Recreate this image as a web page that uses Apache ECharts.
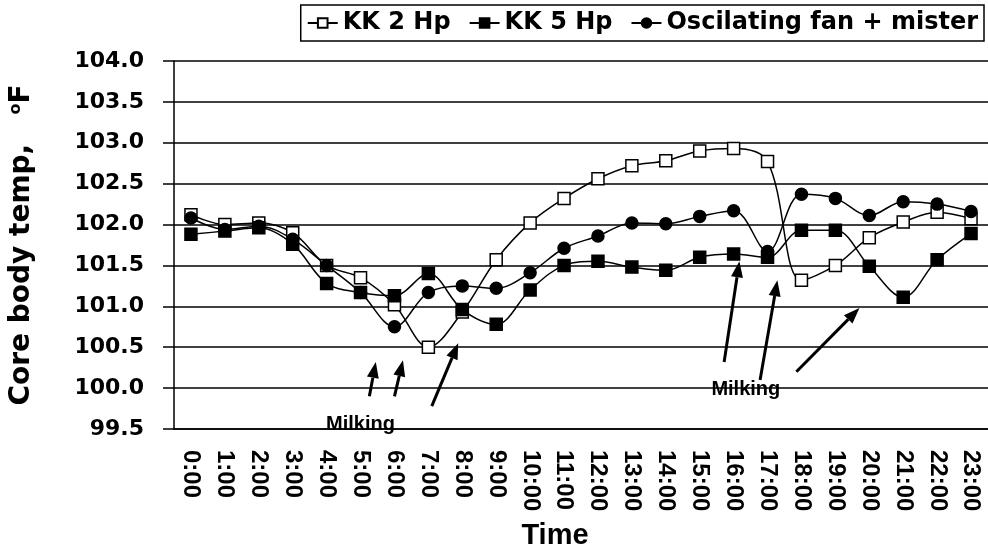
<!DOCTYPE html>
<html>
<head>
<meta charset="utf-8">
<script src="https://cdn.jsdelivr.net/npm/echarts@6/dist/echarts.min.js"></script>
<style>
  html, body { margin: 0; padding: 0; background: #fff; }
  #main { width: 988px; height: 556px; }
</style>
</head>
<body>
<div id="main"></div>
<script>
// hourly core body temperature (°F)
const hours = ['0:00', '1:00', '2:00', '3:00', '4:00', '5:00', '6:00', '7:00', '8:00', '9:00', '10:00', '11:00',
  '12:00', '13:00', '14:00', '15:00', '16:00', '17:00', '18:00', '19:00', '20:00', '21:00', '22:00', '23:00']
const kk2 = [102.12, 102.0, 102.02, 101.9, 101.5, 101.35, 101.02, 100.5, 100.93, 101.57, 102.02, 102.32,
  102.56, 102.72, 102.78, 102.9, 102.93, 102.77, 101.32, 101.5, 101.84, 102.03, 102.15, 102.07]
const kk5 = [101.88, 101.92, 101.96, 101.76, 101.28, 101.17, 101.13, 101.4, 100.96, 100.78, 101.2, 101.5,
  101.55, 101.48, 101.44, 101.6, 101.64, 101.6, 101.93, 101.93, 101.49, 101.11, 101.57, 101.89]
const fan = [102.08, 101.94, 101.98, 101.82, 101.5, 101.17, 100.75, 101.17, 101.25, 101.22, 101.41, 101.71,
  101.86, 102.02, 102.01, 102.1, 102.17, 101.67, 102.37, 102.32, 102.11, 102.28, 102.25, 102.16]

// milking arrows: [fromHour, fromTemp, toHour, toTemp] in axis units
const arrows = [
  [5.26, 99.90, 5.45, 100.32],
  [6.00, 99.90, 6.25, 100.34],
  [7.10, 99.78, 7.88, 100.55],
  [15.72, 100.32, 16.17, 101.55],
  [16.78, 100.10, 17.29, 101.32],
  [17.85, 100.20, 19.71, 100.98]
]
const notes = [[5.0, 99.56], [16.36, 99.98]]

const chart = echarts.init(document.getElementById('main'))

const mkSeries = (name, data, symbol, fill) => ({
  name,
  type: 'line',
  data,
  smooth: 0.35,
  symbol,
  symbolSize: 12,
  lineStyle: { color: '#000', width: 1.5 },
  itemStyle: { color: fill, borderColor: '#000', borderWidth: 1.5 }
})

chart.setOption({
  animation: false,
  grid: { left: 170, right: -6, top: 61, bottom: 127 },
  legend: {
    right: 4,
    top: 5,
    padding: [6, 6],
    itemWidth: 30,
    itemHeight: 12,
    itemGap: 18,
    borderColor: '#000',
    borderWidth: 1.5,
    textStyle: { fontFamily: 'DejaVu Sans', fontWeight: 'bold', fontSize: 24, color: '#000' },
    data: ['KK 2 Hp', 'KK 5 Hp', 'Oscilating fan + mister']
  },
  xAxis: {
    type: 'category',
    data: hours,
    name: 'Time',
    nameLocation: 'middle',
    nameGap: 92,
    nameTextStyle: { fontFamily: 'Liberation Sans', fontWeight: 'bold', fontSize: 29, color: '#000', padding: [0, 52, 0, 0] },
    axisLine: { lineStyle: { color: '#000', width: 1.5 } },
    axisTick: { interval: 0, length: 7, lineStyle: { color: '#000', width: 1.5 } },
    axisLabel: {
      interval: 0,
      rotate: -90,
      margin: 21,
      fontFamily: 'Liberation Sans',
      fontWeight: 'bold',
      fontSize: 24,
      color: '#000'
    }
  },
  yAxis: {
    type: 'value',
    min: 99.5,
    max: 104,
    interval: 0.5,
    name: 'Core body temp,   {sup|o}F',
    nameLocation: 'middle',
    nameRotate: 90,
    nameGap: 138,
    nameTextStyle: {
      fontFamily: 'DejaVu Sans', fontWeight: 'bold', fontSize: 28, color: '#000',
      rich: { sup: { fontFamily: 'DejaVu Sans', fontWeight: 'bold', fontSize: 16, color: '#000', verticalAlign: 'top' } }
    },
    axisLine: { show: true, lineStyle: { color: '#000', width: 1.5 } },
    axisTick: { show: true, length: 11, lineStyle: { color: '#000', width: 1.5 } },
    splitLine: { lineStyle: { color: '#000', width: 1.5 } },
    axisLabel: {
      margin: 30,
      fontFamily: 'DejaVu Sans',
      fontWeight: 'bold',
      fontSize: 22,
      color: '#000',
      formatter: v => v.toFixed(1)
    }
  },
  series: [
    mkSeries('KK 2 Hp', kk2, 'rect', '#fff'),
    mkSeries('KK 5 Hp', kk5, 'rect', '#000'),
    mkSeries('Oscilating fan + mister', fan, 'circle', '#000')
  ]
})

// fractional hour -> pixel, interpolated between category centres
const toPx = (h, v) => {
  const i = Math.min(Math.floor(h), hours.length - 2)
  const a = chart.convertToPixel({ gridIndex: 0 }, [i, v])
  const b = chart.convertToPixel({ gridIndex: 0 }, [i + 1, v])
  const f = h - i
  return [a[0] + (b[0] - a[0]) * f, a[1]]
}

const arrowShape = (x1, y1, x2, y2) => {
  const ang = Math.atan2(y2 - y1, x2 - x1)
  const len = 16
  const half = 6
  const bx = x2 - len * Math.cos(ang)
  const by = y2 - len * Math.sin(ang)
  return {
    type: 'group',
    children: [
      { type: 'line', shape: { x1, y1, x2: bx, y2: by }, style: { stroke: '#000', lineWidth: 3 } },
      {
        type: 'polygon',
        shape: { points: [[x2, y2], [bx + half * Math.sin(ang), by - half * Math.cos(ang)], [bx - half * Math.sin(ang), by + half * Math.cos(ang)]] },
        style: { fill: '#000' }
      }
    ]
  }
}

const graphics = arrows.map(a => {
  const p = toPx(a[0], a[1])
  const q = toPx(a[2], a[3])
  return arrowShape(p[0], p[1], q[0], q[1])
})
notes.forEach(n => {
  const p = toPx(n[0], n[1])
  graphics.push({
    type: 'text',
    x: p[0],
    y: p[1],
    style: {
      text: 'Milking',
      fontFamily: 'Liberation Sans',
      fontWeight: 'bold',
      fontSize: 20,
      fill: '#000',
      align: 'center',
      verticalAlign: 'middle'
    }
  })
})
chart.setOption({ graphic: graphics })
</script>
</body>
</html>
